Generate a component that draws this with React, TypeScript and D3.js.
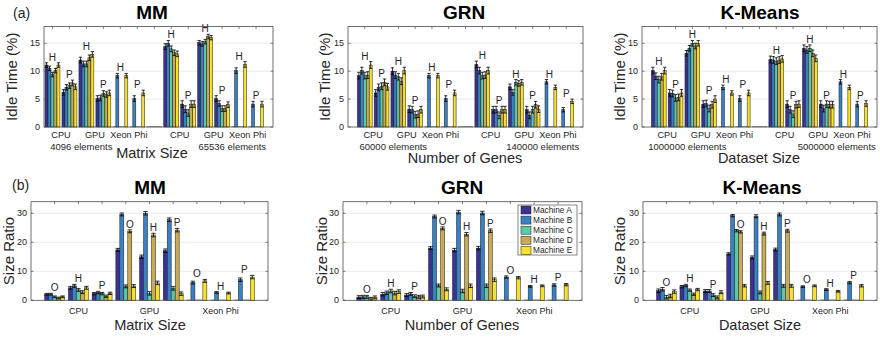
import React from "react";
import * as d3 from "d3";

const machines = ["Machine A", "Machine B", "Machine C", "Machine D", "Machine E"];
const machineColors = ["#3b3394", "#3a80c3", "#5cc9a7", "#c9ab57", "#f6e22a"];

const processors = ["CPU", "GPU", "Xeon Phi"];
const idleLetters = ["H", "P", "H", "P", "H", "P"];
const ratioLetters = ["O", "H", "P", "O", "H", "P", "O", "H", "P"];

// Idle time (%) - rows: CPU-H, CPU-P, GPU-H, GPU-P, XeonPhi-H, XeonPhi-P ; cols: machines A..E
const mmIdleSmall = [
  [11.1, 10.5, 9.4, 10.1, 11.1],
  [6.2, 7.1, 7.4, 7.9, 7.2],
  [12.0, 11.3, 11.3, 12.4, 13.0],
  [5.1, 5.2, 6.0, 5.8, 6.1],
  [0, 9.2, 0, 0, 9.2],
  [0, 5.1, 0, 0, 6.1],
];
const mmIdleSmallErr = [0.4, 0.5, 0.5, 0.5, 0.4, 0.5];
const mmIdleLarge = [
  [14.4, 15.0, 14.0, 13.3, 13.1],
  [4.1, 3.2, 2.5, 4.1, 4.1],
  [15.1, 14.9, 15.3, 16.2, 16.0],
  [5.1, 4.2, 3.3, 3.3, 4.0],
  [0, 10.1, 0, 0, 11.2],
  [0, 4.1, 0, 0, 4.1],
];
const mmIdleLargeErr = [0.5, 0.6, 0.4, 0.5, 0.5, 0.5];

const grnIdleSmall = [
  [9.2, 10.1, 9.2, 9.3, 11.1],
  [6.1, 7.1, 7.3, 8.0, 7.2],
  [10.0, 9.3, 9.0, 8.2, 10.1],
  [3.2, 3.1, 2.2, 2.3, 3.1],
  [0, 9.2, 0, 0, 9.2],
  [0, 5.1, 0, 0, 6.1],
];
const grnIdleSmallErr = [0.6, 0.6, 0.6, 0.6, 0.4, 0.5];
const grnIdleLarge = [
  [11.2, 10.1, 9.2, 9.3, 10.1],
  [3.1, 3.1, 2.1, 3.1, 3.1],
  [7.2, 6.2, 8.0, 7.8, 8.0],
  [3.1, 2.1, 3.1, 4.0, 3.2],
  [0, 8.1, 0, 0, 7.1],
  [0, 3.1, 0, 0, 4.6],
];
const grnIdleLargeErr = [0.6, 0.6, 0.5, 0.6, 0.4, 0.4];

const kmIdleSmall = [
  [10.1, 9.1, 8.5, 9.0, 10.1],
  [6.1, 6.0, 5.2, 5.3, 6.1],
  [13.2, 14.1, 15.0, 14.5, 15.0],
  [4.1, 4.2, 3.3, 4.0, 5.0],
  [0, 7.1, 0, 0, 6.1],
  [0, 5.1, 0, 0, 6.1],
];
const kmIdleSmallErr = [0.6, 0.6, 0.5, 0.6, 0.4, 0.5];
const kmIdleLarge = [
  [12.1, 12.0, 11.8, 12.0, 12.2],
  [4.1, 3.1, 2.3, 4.0, 4.1],
  [14.1, 13.8, 14.1, 13.2, 12.3],
  [4.1, 3.3, 4.1, 4.0, 4.0],
  [0, 8.1, 0, 0, 7.1],
  [0, 4.1, 0, 0, 4.2],
];
const kmIdleLargeErr = [0.6, 0.6, 0.6, 0.6, 0.4, 0.5];

// Size ratio - rows: CPU-O,H,P ; GPU-O,H,P ; XeonPhi-O,H,P
const mmRatio = [
  [2.1, 2.1, 1.2, 0.8, 1.2],
  [4.3, 5.0, 3.6, 2.8, 4.3],
  [2.3, 2.7, 2.3, 1.4, 2.4],
  [17.4, 29.6, 4.8, 23.8, 4.9],
  [15.0, 30.0, 2.4, 22.5, 6.0],
  [17.1, 27.8, 4.1, 24.2, 2.3],
  [0, 6.1, 0, 0, 6.7],
  [0, 2.7, 0, 0, 2.5],
  [0, 7.1, 0, 0, 8.0],
];
const mmRatioErr = [0.3, 0.5, 0.4, 0.5, 0.6, 0.6, 0.5, 0.3, 0.6];
const grnRatio = [
  [1.1, 1.2, 1.2, 0.5, 1.0],
  [2.1, 2.6, 3.2, 2.5, 3.0],
  [1.8, 2.2, 1.4, 1.2, 1.3],
  [18.0, 28.9, 5.1, 24.8, 3.8],
  [17.3, 30.4, 3.2, 22.8, 5.0],
  [18.0, 30.1, 5.0, 24.0, 7.1],
  [0, 8.0, 0, 0, 7.8],
  [0, 4.8, 0, 0, 5.0],
  [0, 5.3, 0, 0, 5.4],
];
const grnRatioErr = [0.5, 0.6, 0.5, 0.5, 0.6, 0.6, 0.4, 0.3, 0.4];
const kmRatio = [
  [3.3, 3.8, 1.1, 1.5, 3.0],
  [4.7, 5.1, 3.5, 2.1, 3.7],
  [3.2, 3.2, 1.8, 1.0, 2.8],
  [16.0, 29.2, 24.0, 23.6, 5.0],
  [14.8, 29.0, 2.7, 23.0, 6.0],
  [17.5, 29.6, 5.0, 24.0, 5.0],
  [0, 4.7, 0, 0, 5.0],
  [0, 3.7, 0, 0, 3.1],
  [0, 6.1, 0, 0, 5.0],
];
const kmRatioErr = [0.6, 0.4, 0.5, 0.4, 0.5, 0.5, 0.3, 0.3, 0.4];

const idleTicks = [0, 5, 10, 15];
const ratioTicks = [0, 10, 20, 30];

const FONT = "'Liberation Sans', Arial, Helvetica, sans-serif";
const AX = "#4d4d4d";
const TXT = "#262626";

type Slot = { pos: number; values: number[]; err: number; letter: string };
type Lbl = { pos: number; text: string };

function Panel(p: {
  x0: number; x1: number; y0: number; y1: number;
  xDomain: [number, number]; yMax: number; yTicks: number[];
  slots: Slot[]; barFrac: number; letterSize: number;
  procLabels: Lbl[]; procY: number; procSize: number;
  subLabels?: Lbl[]; subY?: number;
  title: string; titleX: number; titleY: number;
  yLabel: string; yLabelX: number;
  xLabel: string; xLabelX: number; xLabelY: number;
}) {
  const x = d3.scaleLinear().domain(p.xDomain).range([p.x0, p.x1]);
  const y = d3.scaleLinear().domain([0, p.yMax]).range([p.y1, p.y0]);
  const step = x(1) - x(0);
  const bw = step * p.barFrac;
  const xTickPos = d3.range(Math.ceil(p.xDomain[0] + 0.01), Math.floor(p.xDomain[1] - 0.01) + 1);

  return (
    <g fontFamily={FONT}>
      {p.yTicks.filter(t => t > 0).map(t => (
        <line key={"g" + t} x1={p.x0} x2={p.x1} y1={y(t)} y2={y(t)} stroke="#e6e6e6" strokeWidth={0.8} />
      ))}
      {p.slots.map((s, si) => {
        const cx = x(s.pos);
        const bx = (i: number) => cx + (i - (s.values.length - 1) / 2) * bw;
        const sorted = [...s.values].sort((a, b) => b - a);
        const tallest = s.values.indexOf(sorted[0]);
        const beside = sorted[0] - sorted[1] > 3;
        const lx = beside ? bx(Math.min(tallest + 2, s.values.length - 1)) : cx;
        const ly = y((beside ? sorted[1] : sorted[0]) + s.err) - 2;
        return (
          <g key={si}>
            {s.values.map((v, i) =>
              v > 0 ? (
                <rect key={i} x={bx(i) - bw / 2} y={y(v)} width={bw} height={y(0) - y(v)}
                  fill={machineColors[i]} stroke="#1a1a1a" strokeWidth={0.5} />
              ) : (
                <line key={i} x1={bx(i) - bw / 2} x2={bx(i) + bw / 2} y1={y(0) - 0.3} y2={y(0) - 0.3}
                  stroke="#333" strokeWidth={0.6} />
              )
            )}
            {s.values.map((v, i) =>
              v > 0 ? (
                <g key={"e" + i} stroke="#000" strokeWidth={0.8}>
                  <line x1={bx(i)} x2={bx(i)} y1={y(v + s.err)} y2={y(Math.max(0, v - s.err))} />
                  <line x1={bx(i) - bw * 0.55} x2={bx(i) + bw * 0.55} y1={y(v + s.err)} y2={y(v + s.err)} />
                  <line x1={bx(i) - bw * 0.55} x2={bx(i) + bw * 0.55} y1={y(v - s.err)} y2={y(v - s.err)} />
                </g>
              ) : null
            )}
            {s.letter ? (
              <text x={lx} y={ly} textAnchor="middle" fontSize={p.letterSize} fill={TXT}>{s.letter}</text>
            ) : null}
          </g>
        );
      })}
      <rect x={p.x0} y={p.y0} width={p.x1 - p.x0} height={p.y1 - p.y0} fill="none" stroke={AX} strokeWidth={0.8} />
      {xTickPos.map(t => (
        <line key={"xt" + t} x1={x(t)} x2={x(t)} y1={p.y0} y2={p.y0 + 2.5} stroke={AX} strokeWidth={0.7} />
      ))}
      {p.yTicks.map(t => (
        <g key={"yt" + t}>
          <line x1={p.x0} x2={p.x0 + 2.5} y1={y(t)} y2={y(t)} stroke={AX} strokeWidth={0.7} />
          <line x1={p.x1} x2={p.x1 - 2.5} y1={y(t)} y2={y(t)} stroke={AX} strokeWidth={0.7} />
          <text x={p.x0 - 4} y={y(t)} dy="0.35em" textAnchor="end" fontSize={9} fill={TXT}>{t}</text>
        </g>
      ))}
      {p.procLabels.map((l, i) => (
        <text key={"pl" + i} x={x(l.pos)} y={p.procY} dy="0.35em" textAnchor="middle" fontSize={p.procSize} fill={TXT}>{l.text}</text>
      ))}
      {(p.subLabels || []).map((l, i) => (
        <text key={"sl" + i} x={x(l.pos)} y={p.subY} dy="0.35em" textAnchor="middle" fontSize={9.5} fill={TXT}>{l.text}</text>
      ))}
      <text x={p.titleX} y={p.titleY} dy="0.35em" textAnchor="middle" fontSize={19} fontWeight="bold" fill="#000">{p.title}</text>
      <text x={p.xLabelX} y={p.xLabelY} dy="0.35em" textAnchor="middle" fontSize={14.5} fill={TXT}>{p.xLabel}</text>
      <text transform={`translate(${p.yLabelX},${(p.y0 + p.y1) / 2}) rotate(-90)`} dy="0.35em" textAnchor="middle" fontSize={15} fill={TXT}>{p.yLabel}</text>
    </g>
  );
}

function idleSlots(small: number[][], smallErr: number[], large: number[][], largeErr: number[]): Slot[] {
  const a = small.map((v, i) => ({ pos: i + 1, values: v, err: smallErr[i], letter: idleLetters[i] }));
  const gap = { pos: 7, values: [0, 0, 0, 0, 0], err: 0, letter: "" };
  const b = large.map((v, i) => ({ pos: i + 8, values: v, err: largeErr[i], letter: idleLetters[i] }));
  return [...a, gap, ...b];
}

function ratioSlots(vals: number[][], err: number[]): Slot[] {
  return vals.map((v, i) => ({ pos: i + 1, values: v, err: err[i], letter: ratioLetters[i] }));
}

const idleProc: Lbl[] = [
  ...processors.map((t, i) => ({ pos: 1.5 + 2 * i, text: t })),
  ...processors.map((t, i) => ({ pos: 8.5 + 2 * i, text: t })),
];
const ratioProc: Lbl[] = processors.map((t, i) => ({ pos: 2 + 3 * i, text: t }));
const subPos = [2.7, 11.6];

function Legend({ x0, y0 }: { x0: number; y0: number }) {
  return (
    <g fontFamily={FONT}>
      <rect x={x0} y={y0} width={59} height={50} fill="#fff" stroke="#333" strokeWidth={0.6} />
      {machines.map((m, i) => (
        <g key={m} transform={`translate(${x0 + 3},${y0 + 5 + i * 10.1})`}>
          <rect x={0} y={-4} width={10} height={8} fill={machineColors[i]} stroke="#1a1a1a" strokeWidth={0.5} />
          <text x={12} y={0} dy="0.35em" fontSize={8.3} fill={TXT}>{m}</text>
        </g>
      ))}
    </g>
  );
}

export default function App() {
  const top = { y0: 26.5, y1: 127, yMax: 18, yTicks: idleTicks, barFrac: 0.176, letterSize: 10, procY: 135, procSize: 9.2, subY: 147 };
  const bot = { y0: 201.7, y1: 300.3, yMax: 34, yTicks: ratioTicks, barFrac: 0.168, letterSize: 10, procY: 310.5, procSize: 9, xLabelY: 325 };
  return (
    <div style={{ position: "absolute", left: 0, top: 0 }}>
      <svg width={880} height={340} style={{ display: "block", background: "#fff" }}>
        <text x={13} y={13} dy="0.35em" fontFamily={FONT} fontSize={14} fill={TXT}>(a)</text>
        <text x={12} y={185} dy="0.35em" fontFamily={FONT} fontSize={14} fill={TXT}>(b)</text>

        <Panel {...top} x0={44} x1={273} xDomain={[0.5, 14]}
          slots={idleSlots(mmIdleSmall, mmIdleSmallErr, mmIdleLarge, mmIdleLargeErr)}
          procLabels={idleProc}
          subLabels={[{ pos: subPos[0], text: "4096 elements" }, { pos: subPos[1], text: "65536 elements" }]}
          title="MM" titleX={152} titleY={12} yLabel="Idle Time (%)" yLabelX={12}
          xLabel="Matrix Size" xLabelX={152} xLabelY={153} />
        <Panel {...top} x0={348} x1={583} xDomain={[0, 14]}
          slots={idleSlots(grnIdleSmall, grnIdleSmallErr, grnIdleLarge, grnIdleLargeErr)}
          procLabels={idleProc}
          subLabels={[{ pos: subPos[0], text: "60000 elements" }, { pos: subPos[1], text: "140000 elements" }]}
          title="GRN" titleX={464} titleY={12} yLabel="Idle Time (%)" yLabelX={325}
          xLabel="Number of Genes" xLabelX={465} xLabelY={158} />
        <Panel {...top} x0={642} x1={877} xDomain={[0, 14]}
          slots={idleSlots(kmIdleSmall, kmIdleSmallErr, kmIdleLarge, kmIdleLargeErr)}
          procLabels={idleProc}
          subLabels={[{ pos: subPos[0], text: "1000000 elements" }, { pos: subPos[1], text: "5000000 elements" }]}
          title="K-Means" titleX={760} titleY={12} yLabel="Idle Time (%)" yLabelX={620}
          xLabel="Dataset Size" xLabelX={759} xLabelY={158} />

        <Panel {...bot} x0={31} x1={268} xDomain={[0, 10]}
          slots={ratioSlots(mmRatio, mmRatioErr)} procLabels={ratioProc}
          title="MM" titleX={150} titleY={187} yLabel="Size Ratio" yLabelX={9}
          xLabel="Matrix Size" xLabelX={150} />
        <Panel {...bot} x0={343} x1={582} xDomain={[0, 10]}
          slots={ratioSlots(grnRatio, grnRatioErr)} procLabels={ratioProc}
          title="GRN" titleX={462} titleY={187} yLabel="Size Ratio" yLabelX={322}
          xLabel="Number of Genes" xLabelX={462} />
        <Panel {...bot} x0={643} x1={877} xDomain={[0, 10]}
          slots={ratioSlots(kmRatio, kmRatioErr)} procLabels={ratioProc}
          title="K-Means" titleX={762} titleY={187} yLabel="Size Ratio" yLabelX={620}
          xLabel="Dataset Size" xLabelX={760} />
        <Legend x0={518} y0={205} />
      </svg>
    </div>
  );
}
